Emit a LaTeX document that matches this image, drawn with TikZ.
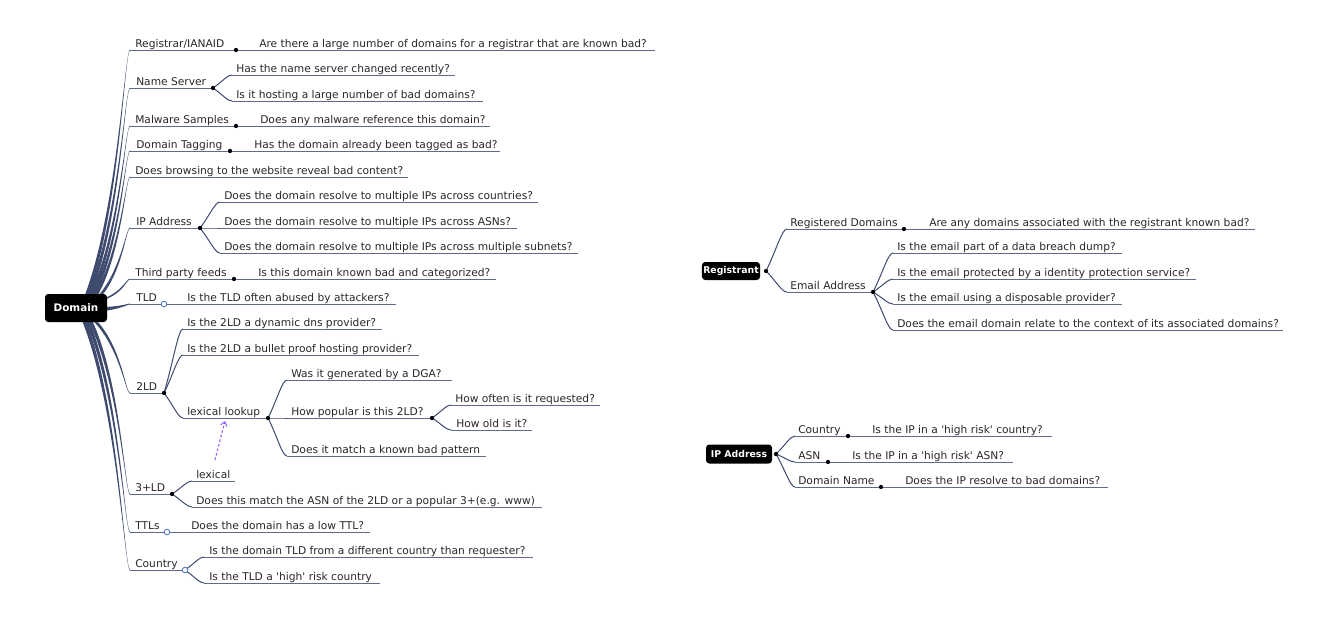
\documentclass[tikz,border=0pt]{standalone}
\usepackage{fontspec}
\setmainfont{DejaVu Sans}[Ligatures=TeXOff]
\usetikzlibrary{calc,arrows.meta}
\definecolor{linkc}{RGB}{62,74,110}
\definecolor{ulc}{RGB}{95,105,140}
\definecolor{txtc}{RGB}{40,40,40}
\definecolor{circc}{RGB}{70,110,200}
\definecolor{arrc}{RGB}{150,100,240}
\tikzset{
 ul/.style={draw=ulc, line width=0.75pt},
 branch/.style={to path={let \p1=(\tikztostart), \p2=(\tikztotarget) in .. controls ({0.5*\x1+0.5*\x2},{0.5*\y1+0.5*\y2}) and ({0.25*\x1+0.75*\x2},\y2) .. (\tikztotarget)}},
 link/.style={draw=linkc, line width=0.75pt},
 dotn/.style={circle, fill=black, inner sep=0, minimum size=3.2pt},
 odot/.style={circle, draw=circc, fill=white, line width=0.6pt, inner sep=0, minimum size=4.2pt},
 lbl/.style={anchor=base west, inner sep=0, text=txtc, font=\fontsize{8}{9.5}\selectfont},
 rootbox/.style={fill=black, rounded corners=2.5pt, text=white, inner sep=1pt},
}
\newcommand\leaf[6]{%
 \coordinate (#1s) at (#4,#3); \coordinate (#1e) at (#5,#3);
 \draw[ul] (#1s) -- (#1e);
 \node[lbl] (#1) at (#2,{#3-3}) {#6};}
\newcommand\rootlink[5]{%
 \fill[linkc] let \p1=(#1), \p2=(#2) in
 ({\x1-#3},{\y1-#4}) .. controls ({0.25*\x1+0.75*\x2-#3*0.5},{0.65*\y1+0.35*\y2-#4*0.5}) and ({0.12*\x1+0.88*\x2},{\y2+#5}) .. ({\x2},{\y2+#5})
 -- ({\x2},{\y2-#5}) .. controls ({0.12*\x1+0.88*\x2},{\y2-#5}) and ({0.25*\x1+0.75*\x2+#3*0.5},{0.65*\y1+0.35*\y2+#4*0.5}) .. ({\x1+#3},{\y1+#4}) -- cycle;}
\begin{document}
\begin{tikzpicture}[x=0.75pt,y=-0.75pt]
\fill[white] (0,0) rectangle (1332,629);
\useasboundingbox (0,0) rectangle (1332,629);
% ---------- Domain tree ----------
\leaf{reg}{135}{50}{130}{236}{Registrar/IANAID}
\leaf{regq}{259}{50}{236}{655}{Are there a large number of domains for a registrar that are known bad?}
\leaf{ns}{136}{88}{130}{213}{Name Server}
\leaf{nsa}{236}{75}{232}{455}{Has the name server changed recently?}
\leaf{nsb}{236}{101}{232}{483}{Is it hosting a large number of bad domains?}
\leaf{mal}{135}{126}{130}{236}{Malware Samples}
\leaf{malq}{260}{126}{236}{490}{Does any malware reference this domain?}
\leaf{tag}{136}{151}{130}{230}{Domain Tagging}
\leaf{tagq}{254}{151}{230}{500}{Has the domain already been tagged as bad?}
\leaf{brow}{135}{177}{130}{408}{Does browsing to the website reveal bad content?}
\leaf{ip}{136}{228}{130}{200}{IP Address}
\leaf{ipa}{224}{202}{220}{538}{Does the domain resolve to multiple IPs across countries?}
\leaf{ipb}{224}{228}{220}{517}{Does the domain resolve to multiple IPs across ASNs?}
\leaf{ipc}{224}{253}{220}{578}{Does the domain resolve to multiple IPs across multiple subnets?}
\leaf{tp}{135}{279}{130}{234}{Third party feeds}
\leaf{tpq}{258}{279}{234}{496}{Is this domain known bad and categorized?}
\leaf{tld}{136}{304}{130}{164}{TLD}
\leaf{tldq}{187}{304}{164}{396}{Is the TLD often abused by attackers?}
\leaf{sld}{136}{393}{130}{164}{2LD}
\leaf{slda}{187}{329}{183}{382}{Is the 2LD a dynamic dns provider?}
\leaf{sldb}{187}{355}{183}{419}{Is the 2LD a bullet proof hosting provider?}
\leaf{lex}{187}{418}{183}{268}{lexical lookup}
\leaf{lexa}{291}{380}{287}{452}{Was it generated by a DGA?}
\leaf{pop}{291}{418}{287}{432}{How popular is this 2LD?}
\leaf{lexc}{291}{456}{287}{486}{Does it match a known bad pattern}
\leaf{popa}{455}{405}{451}{600}{How often is it requested?}
\leaf{popb}{456}{430}{451}{532}{How old is it?}
\leaf{tld3}{135}{494}{130}{172}{3+LD}
\leaf{lexical}{196}{481}{192}{235}{lexical}
\leaf{tlda}{196}{507}{192}{542}{Does this match the ASN of the 2LD or a popular 3+(e.g. www)}
\leaf{ttl}{135}{532}{130}{167}{TTLs}
\leaf{ttlq}{191}{532}{167}{370}{Does the domain has a low TTL?}
\leaf{cty}{135}{570}{130}{185}{Country}
\leaf{ctya}{209}{557}{204}{533}{Is the domain TLD from a different country than requester?}
\leaf{ctyb}{209}{583}{204}{380}{Is the TLD a 'high' risk country}
% sub links
\draw[link] (nse) to[branch] (nsas);
\draw[link] (nse) to[branch] (nsbs);
\draw[link] (ipe) to[branch] (ipas);
\draw[link] (ipe) to[branch] (ipbs);
\draw[link] (ipe) to[branch] (ipcs);
\draw[link] (slde) to[branch] (sldas);
\draw[link] (slde) to[branch] (sldbs);
\draw[link] (slde) to[branch] (lexs);
\draw[link] (lexe) to[branch] (lexas);
\draw[link] (lexe) to[branch] (pops);
\draw[link] (lexe) to[branch] (lexcs);
\draw[link] (pope) to[branch] (popas);
\draw[link] (pope) to[branch] (popbs);
\draw[link] (tld3e) to[branch] (lexicals);
\draw[link] (tld3e) to[branch] (tldas);
\draw[link] (ctye) to[branch] (ctyas);
\draw[link] (ctye) to[branch] (ctybs);
% root links
\coordinate (r1) at (85,300); \coordinate (r2) at (87,300); \coordinate (r3) at (89,300);
\coordinate (r4) at (91,300); \coordinate (r5) at (93,300); \coordinate (r6) at (96,300);
\coordinate (r7) at (102,300); \coordinate (r8) at (104,309);
\coordinate (r9) at (92,318); \coordinate (r10) at (89,318); \coordinate (r11) at (86,318); \coordinate (r12) at (83,318);
\rootlink{r1}{regs}{1.5pt}{0pt}{0.35pt}
\rootlink{r2}{nss}{1.5pt}{0pt}{0.35pt}
\rootlink{r3}{mals}{1.5pt}{0pt}{0.35pt}
\rootlink{r4}{tags}{1.5pt}{0pt}{0.35pt}
\rootlink{r5}{brows}{1.5pt}{0pt}{0.35pt}
\rootlink{r6}{ips}{1.5pt}{0pt}{0.35pt}
\rootlink{r7}{tps}{1.5pt}{0pt}{0.35pt}
\rootlink{r8}{tlds}{0pt}{1.5pt}{-0.35pt}
\rootlink{r9}{slds}{1.5pt}{0pt}{-0.35pt}
\rootlink{r10}{tld3s}{1.5pt}{0pt}{-0.35pt}
\rootlink{r11}{ttls}{1.5pt}{0pt}{-0.35pt}
\rootlink{r12}{ctys}{1.5pt}{0pt}{-0.35pt}
\node[rootbox, minimum width=46.5pt, minimum height=21pt, font=\fontsize{7.8}{9}\selectfont\bfseries] (domain) at (76,308) {Domain};
% markers
\node[dotn] at (rege) {};
\node[dotn] at (nse) {};
\node[dotn] at (male) {};
\node[dotn] at (tage) {};
\node[dotn] at (ipe) {};
\node[dotn] at (tpe) {};
\node[odot] at (tlde) {};
\node[dotn] at (slde) {};
\node[dotn] at (lexe) {};
\node[dotn] at (pope) {};
\node[dotn] at (tld3e) {};
\node[odot] at (ttle) {};
\node[odot] at (ctye) {};
% dashed relation arrow
\coordinate (arrS) at (215,460); \coordinate (arrE) at (225,421);
\draw[arrc, line width=0.8pt, dash pattern=on 2pt off 1.5pt, -{Straight Barb[length=3pt,width=5pt]}] (arrS) -- (arrE);
% ---------- Registrant tree ----------
\node[rootbox, minimum width=43.5pt, minimum height=13.5pt, font=\fontsize{7}{8}\selectfont\bfseries] (registrant) at (731,271) {Registrant};
\coordinate (regd) at (766,271);
\leaf{rd}{790}{229}{787}{904}{Registered Domains}
\leaf{rdq}{929}{229}{904}{1255}{Are any domains associated with the registrant known bad?}
\leaf{em}{790}{292}{787}{873}{Email Address}
\leaf{ema}{897}{253}{893}{1122}{Is the email part of a data breach dump?}
\leaf{emb}{897}{279}{893}{1196}{Is the email protected by a identity protection service?}
\leaf{emc}{897}{304}{893}{1122}{Is the email using a disposable provider?}
\leaf{emd}{897}{330}{893}{1283}{Does the email domain relate to the context of its associated domains?}
\draw[link] (regd) to[branch] (rds);
\draw[link] (regd) to[branch] (ems);
\draw[link] (eme) to[branch] (emas);
\draw[link] (eme) to[branch] (embs);
\draw[link] (eme) to[branch] (emcs);
\draw[link] (eme) to[branch] (emds);
\node[dotn] at (regd) {};
\node[dotn] at (rde) {};
\node[dotn] at (eme) {};
% ---------- IP Address tree ----------
\node[rootbox, minimum width=49.5pt, minimum height=14.25pt, font=\fontsize{7}{8}\selectfont\bfseries] (ipaddr) at (739,454) {IP Address};
\coordinate (ipd) at (776,454);
\leaf{cn}{798}{436}{795}{848}{Country}
\leaf{cnq}{872}{436}{848}{1052}{Is the IP in a 'high risk' country?}
\leaf{asn}{798}{462}{795}{828}{ASN}
\leaf{asnq}{852}{462}{828}{1013}{Is the IP in a 'high risk' ASN?}
\leaf{dn}{798}{487}{795}{881}{Domain Name}
\leaf{dnq}{905}{487}{881}{1108}{Does the IP resolve to bad domains?}
\draw[link] (ipd) to[branch] (cns);
\draw[link] (ipd) to[branch] (asns);
\draw[link] (ipd) to[branch] (dns);
\node[dotn] at (ipd) {};
\node[dotn] at (cne) {};
\node[dotn] at (asne) {};
\node[dotn] at (dne) {};
\end{tikzpicture}
\end{document}
